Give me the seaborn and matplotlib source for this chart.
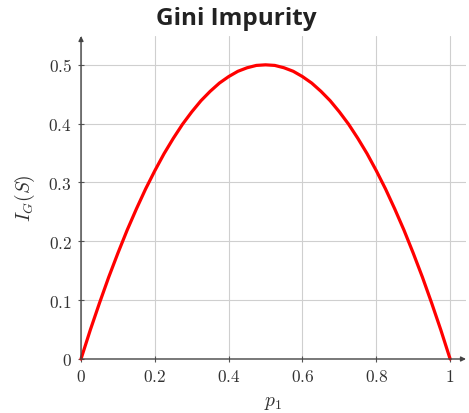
import matplotlib
matplotlib.use("Agg")
import matplotlib.pyplot as plt
import seaborn as sns
import pandas as pd

# values
p1 = [0.0, 0.025, 0.05, 0.075, 0.1, 0.125, 0.15, 0.175, 0.2, 0.225, 0.25,
      0.275, 0.3, 0.325, 0.35, 0.375, 0.4, 0.425, 0.45, 0.475, 0.5,
      0.525, 0.55, 0.575, 0.6, 0.625, 0.65, 0.675, 0.7, 0.725, 0.75,
      0.775, 0.8, 0.825, 0.85, 0.875, 0.9, 0.925, 0.95, 0.975, 1.0]
gini = [0.0, 0.049, 0.095, 0.139, 0.18, 0.219, 0.255, 0.289, 0.32, 0.349, 0.375,
        0.399, 0.42, 0.439, 0.455, 0.469, 0.48, 0.489, 0.495, 0.499, 0.5,
        0.499, 0.495, 0.489, 0.48, 0.469, 0.455, 0.439, 0.42, 0.399, 0.375,
        0.349, 0.32, 0.289, 0.255, 0.219, 0.18, 0.139, 0.095, 0.049, 0.0]
xticks = [0, 0.2, 0.4, 0.6, 0.8, 1]
xticklabels = ["0", "0.2", "0.4", "0.6", "0.8", "1"]
yticks = [0, 0.1, 0.2, 0.3, 0.4, 0.5]
yticklabels = ["0", "0.1", "0.2", "0.3", "0.4", "0.5"]

sns.set_theme(style="white")
plt.rcParams["mathtext.fontset"] = "cm"
plt.rcParams["font.family"] = ["DejaVu Serif"]

df = pd.DataFrame({"p1": p1, "gini": gini})

fig = plt.figure(figsize=(4.69, 4.14), dpi=100)
ax = fig.add_axes([81 / 469, 54 / 414, 385 / 469, 323 / 414])
sns.lineplot(data=df, x="p1", y="gini", ax=ax, color="#ff0000", linewidth=2.3, zorder=3,
             clip_on=False)

ax.set_xlim(0, 1.043)
ax.set_ylim(0, 0.549)
ax.set_xticks(xticks)
ax.set_xticklabels(["$" + t + "$" for t in xticklabels], fontsize=12.5)
ax.set_yticks(yticks)
ax.set_yticklabels(["$" + t + "$" for t in yticklabels], fontsize=12.5)
ax.grid(True, color="#cfcfcf", linewidth=0.8)
ax.tick_params(axis="both", direction="inout", length=5, width=0.8, color="#555555",
               bottom=True, left=True, pad=4, labelcolor="#333333")

for s in ["top", "right", "left", "bottom"]:
    ax.spines[s].set_visible(False)

ax.annotate("", xy=(1.0, 0), xytext=(0, 0), xycoords="axes fraction",
            arrowprops=dict(arrowstyle="-|>", color="#444444", lw=1.0,
                            mutation_scale=7, shrinkA=0, shrinkB=0), zorder=4)
ax.annotate("", xy=(0, 1.0), xytext=(0, 0), xycoords="axes fraction",
            arrowprops=dict(arrowstyle="-|>", color="#444444", lw=1.0,
                            mutation_scale=7, shrinkA=0, shrinkB=0), zorder=4)

ax.set_xlabel("$p_1$", fontsize=14, color="#333333", labelpad=6)
ax.set_ylabel("$I_G(S)$", fontsize=14, color="#333333", labelpad=8)
fig.text(0.503, 0.955, "Gini Impurity", ha="center", va="center", fontsize=17.5,
         fontweight="bold", family=["Open Sans", "DejaVu Sans"], color="#222222")

fig.savefig("out.png", dpi=100)
